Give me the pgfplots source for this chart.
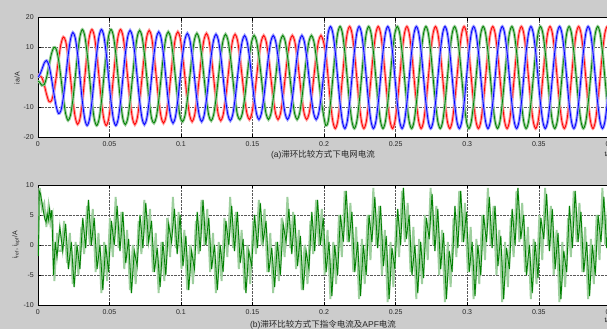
\documentclass[border=0pt]{standalone}
\usepackage{fontspec}
\setmainfont{Liberation Sans}
\newfontfamily\cjk{Noto Sans CJK SC}
\usepackage{pgfplots}
\usepackage{pgfplotstable}
\pgfplotsset{compat=1.18}
\definecolor{bg}{RGB}{204,204,204}
\definecolor{mred}{RGB}{255,0,0}
\definecolor{mgreen}{RGB}{0,128,0}
\definecolor{mblue}{RGB}{0,0,255}

\pgfplotstableread{
t r b g
0.00000 1.00 0.20 -1.20
0.00114 0.75 0.75 -1.50
0.00281 0.00 2.60 -2.60
0.00447 -2.40 4.80 -2.40
0.00614 -5.63 5.63 0.00
0.00781 -8.00 4.00 4.00
0.00947 -7.79 0.00 7.79
0.01114 -5.00 -5.00 10.00
0.01281 0.00 -9.53 9.53
0.01447 6.00 -12.00 6.00
0.01614 11.08 -11.08 0.00
0.01781 13.50 -6.75 -6.75
0.01947 12.12 0.00 -12.12
0.02114 7.15 7.15 -14.30
0.02281 0.00 12.64 -12.64
0.02447 -7.50 15.00 -7.50
0.02614 -13.25 13.25 0.00
0.02781 -15.60 7.80 7.80
0.02947 -13.68 0.00 13.68
0.03114 -8.00 -8.00 16.00
0.03281 0.00 -13.86 13.86
0.03447 8.00 -16.00 8.00
0.03614 13.86 -13.86 0.00
0.03781 16.00 -8.00 -8.00
0.03947 13.86 0.00 -13.86
0.04114 8 8 -16
0.04281 0 13.86 -13.86
0.04447 -8 16 -8
0.04614 -13.86 13.86 0
0.04781 -16 8 8
0.04947 -13.86 0 13.86
0.05114 -8 -8 16
0.05281 0 -13.86 13.86
0.05447 8 -16 8
0.05614 13.86 -13.86 0
0.05781 16 -8 -8
0.05947 13.86 0 -13.86
0.06114 7.85 7.85 -15.7
0.06281 0 13.6 -13.6
0.06447 -7.85 15.7 -7.85
0.06614 -13.6 13.6 0
0.06781 -15.7 7.85 7.85
0.06947 -13.6 0 13.6
0.07114 -7.85 -7.85 15.7
0.07281 0 -13.6 13.6
0.07447 7.85 -15.7 7.85
0.07614 13.6 -13.6 0
0.07781 15.7 -7.85 -7.85
0.07947 13.6 0 -13.6
0.08114 7.6 7.6 -15.2
0.08281 0 13.16 -13.16
0.08447 -7.6 15.2 -7.6
0.08614 -13.16 13.16 0
0.08781 -15.2 7.6 7.6
0.08947 -13.16 0 13.16
0.09114 -7.6 -7.6 15.2
0.09281 0 -13.16 13.16
0.09447 7.6 -15.2 7.6
0.09614 13.16 -13.16 0
0.09781 15.2 -7.6 -7.6
0.09947 13.16 0 -13.16
0.10114 7.35 7.35 -14.7
0.10281 0 12.73 -12.73
0.10447 -7.35 14.7 -7.35
0.10614 -12.73 12.73 0
0.10781 -14.7 7.35 7.35
0.10947 -12.73 0 12.73
0.11114 -7.35 -7.35 14.7
0.11281 0 -12.73 12.73
0.11447 7.35 -14.7 7.35
0.11614 12.73 -12.73 0
0.11781 14.7 -7.35 -7.35
0.11947 12.73 0 -12.73
0.12114 7.2 7.2 -14.4
0.12281 0 12.47 -12.47
0.12447 -7.2 14.4 -7.2
0.12614 -12.47 12.47 0
0.12781 -14.4 7.2 7.2
0.12947 -12.47 0 12.47
0.13114 -7.2 -7.2 14.4
0.13281 0 -12.47 12.47
0.13447 7.2 -14.4 7.2
0.13614 12.47 -12.47 0
0.13781 14.4 -7.2 -7.2
0.13947 12.47 0 -12.47
0.14114 7 7 -14
0.14281 0 12.12 -12.12
0.14447 -7 14 -7
0.14614 -12.12 12.12 0
0.14781 -14 7 7
0.14947 -12.12 0 12.12
0.15114 -7 -7 14
0.15281 0 -12.12 12.12
0.15447 7 -14 7
0.15614 12.12 -12.12 0
0.15781 14 -7 -7
0.15947 12.12 0 -12.12
0.16114 7 7 -14
0.16281 0 12.12 -12.12
0.16447 -7 14 -7
0.16614 -12.12 12.12 0
0.16781 -14 7 7
0.16947 -12.12 0 12.12
0.17114 -7 -7 14
0.17281 0 -12.12 12.12
0.17447 7 -14 7
0.17614 12.12 -12.12 0
0.17781 14 -7 -7
0.17947 12.12 0 -12.12
0.18114 7 7 -14
0.18281 0 12.12 -12.12
0.18447 -7 14 -7
0.18614 -12.12 12.12 0
0.18781 -14 7 7
0.18947 -12.12 0 12.12
0.19114 -7 -7 14
0.19281 0 -12.12 12.12
0.19447 7 -14 7
0.19614 12.12 -12.12 0
0.19781 14 -7 -7
0.19947 12.12 0 -12.12
0.20114 8 8 -16
0.20281 0 14.72 -14.72
0.20447 -8.5 17 -8.5
0.20614 -14.72 14.72 0
0.20781 -17 8.5 8.5
0.20947 -14.72 0 14.72
0.21114 -8.5 -8.5 17
0.21281 0 -14.72 14.72
0.21447 8.5 -17 8.5
0.21614 14.72 -14.72 0
0.21781 17 -8.5 -8.5
0.21947 14.72 0 -14.72
0.22114 8.5 8.5 -17
0.22281 0 14.72 -14.72
0.22447 -8.5 17 -8.5
0.22614 -14.72 14.72 0
0.22781 -17 8.5 8.5
0.22947 -14.72 0 14.72
0.23114 -8.5 -8.5 17
0.23281 0 -14.72 14.72
0.23447 8.5 -17 8.5
0.23614 14.72 -14.72 0
0.23781 17 -8.5 -8.5
0.23947 14.72 0 -14.72
0.24114 8.5 8.5 -17
0.24281 0 14.72 -14.72
0.24447 -8.5 17 -8.5
0.24614 -14.72 14.72 0
0.24781 -17 8.5 8.5
0.24947 -14.72 0 14.72
0.25114 -8.5 -8.5 17
0.25281 0 -14.72 14.72
0.25447 8.5 -17 8.5
0.25614 14.72 -14.72 0
0.25781 17 -8.5 -8.5
0.25947 14.72 0 -14.72
0.26114 8.5 8.5 -17
0.26281 0 14.72 -14.72
0.26447 -8.5 17 -8.5
0.26614 -14.72 14.72 0
0.26781 -17 8.5 8.5
0.26947 -14.72 0 14.72
0.27114 -8.5 -8.5 17
0.27281 0 -14.72 14.72
0.27447 8.5 -17 8.5
0.27614 14.72 -14.72 0
0.27781 17 -8.5 -8.5
0.27947 14.72 0 -14.72
0.28114 8.5 8.5 -17
0.28281 0 14.72 -14.72
0.28447 -8.5 17 -8.5
0.28614 -14.72 14.72 0
0.28781 -17 8.5 8.5
0.28947 -14.72 0 14.72
0.29114 -8.5 -8.5 17
0.29281 0 -14.72 14.72
0.29447 8.5 -17 8.5
0.29614 14.72 -14.72 0
0.29781 17 -8.5 -8.5
0.29947 14.72 0 -14.72
0.30114 8.5 8.5 -17
0.30281 0 14.72 -14.72
0.30447 -8.5 17 -8.5
0.30614 -14.72 14.72 0
0.30781 -17 8.5 8.5
0.30947 -14.72 0 14.72
0.31114 -8.5 -8.5 17
0.31281 0 -14.72 14.72
0.31447 8.5 -17 8.5
0.31614 14.72 -14.72 0
0.31781 17 -8.5 -8.5
0.31947 14.72 0 -14.72
0.32114 8.5 8.5 -17
0.32281 0 14.72 -14.72
0.32447 -8.5 17 -8.5
0.32614 -14.72 14.72 0
0.32781 -17 8.5 8.5
0.32947 -14.72 0 14.72
0.33114 -8.5 -8.5 17
0.33281 0 -14.72 14.72
0.33447 8.5 -17 8.5
0.33614 14.72 -14.72 0
0.33781 17 -8.5 -8.5
0.33947 14.72 0 -14.72
0.34114 8.5 8.5 -17
0.34281 0 14.72 -14.72
0.34447 -8.5 17 -8.5
0.34614 -14.72 14.72 0
0.34781 -17 8.5 8.5
0.34947 -14.72 0 14.72
0.35114 -8.5 -8.5 17
0.35281 0 -14.72 14.72
0.35447 8.5 -17 8.5
0.35614 14.72 -14.72 0
0.35781 17 -8.5 -8.5
0.35947 14.72 0 -14.72
0.36114 8.5 8.5 -17
0.36281 0 14.72 -14.72
0.36447 -8.5 17 -8.5
0.36614 -14.72 14.72 0
0.36781 -17 8.5 8.5
0.36947 -14.72 0 14.72
0.37114 -8.5 -8.5 17
0.37281 0 -14.72 14.72
0.37447 8.5 -17 8.5
0.37614 14.72 -14.72 0
0.37781 17 -8.5 -8.5
0.37947 14.72 0 -14.72
0.38114 8.5 8.5 -17
0.38281 0 14.72 -14.72
0.38447 -8.5 17 -8.5
0.38614 -14.72 14.72 0
0.38781 -17 8.5 8.5
0.38947 -14.72 0 14.72
0.39114 -8.5 -8.5 17
0.39281 0 -14.72 14.72
0.39447 8.5 -17 8.5
0.39614 14.72 -14.72 0
0.39781 17 -8.5 -8.5
0.39947 14.72 0 -14.72
0.40114 8.5 8.5 -17
}\topdata

\pgfplotstableread{
t v
0 0
0.0004 -1.8
0.0010 9.0
0.0018 8.6
0.0028 7.2
0.0040 5.5
0.0050 4.3
0.0058 3.8
0.0066 5.2
0.0074 4.2
0.0082 6.0
0.0090 4.5
0.0098 5.8
0.0110 -5.0
0.0122 0.5
0.0134 -2.0
0.0154 3.0
0.0174 -1.0
0.0194 3.5
0.0214 -4.0
0.0234 0.5
0.0254 -7.0
0.0274 0.0
0.0294 -4.0
0.0314 4.5
0.0334 -0.5
0.0354 7.5
0.0374 0
0.0394 4.5
0.0414 -4
0.0434 0
0.0454 -7.5
0.0474 0
0.0494 -4.5
0.0514 4
0.0534 0
0.0554 6.5
0.0574 -1
0.0594 5.5
0.0614 -3
0.0634 1
0.0654 -8
0.0674 -1
0.0694 -3.5
0.0714 5
0.0734 -0.5
0.0754 7
0.0774 0.5
0.0794 4
0.0814 -4.5
0.0834 -0.5
0.0854 -7
0.0874 0.5
0.0894 -5
0.0914 3.5
0.0934 0.5
0.0954 6
0.0974 -1.5
0.0994 5
0.1014 -3.5
0.1034 1.5
0.1054 -7.5
0.1074 -1
0.1094 -4
0.1114 5.5
0.1134 -1
0.1154 7.5
0.1174 0
0.1194 4.5
0.1214 -4
0.1234 0
0.1254 -7.5
0.1274 0
0.1294 -4.5
0.1314 4
0.1334 0
0.1354 6.5
0.1374 -1
0.1394 5.5
0.1414 -3
0.1434 1
0.1454 -8
0.1474 -1
0.1494 -3.5
0.1514 5
0.1534 -0.5
0.1554 7
0.1574 0.5
0.1594 4
0.1614 -4.5
0.1634 -0.5
0.1654 -7
0.1674 0.5
0.1694 -5
0.1714 3.5
0.1734 0.5
0.1754 6
0.1774 -1.5
0.1794 5
0.1814 -3.5
0.1834 1.5
0.1854 -7.5
0.1874 -1
0.1894 -4
0.1914 5.5
0.1934 -1
0.1954 7.5
0.1974 0
0.1994 4.5
0.2014 -4.5
0.2034 0.5
0.2054 -8.5
0.2074 0
0.2094 -5
0.2114 5
0.2134 0.5
0.2154 9
0.2174 0.5
0.2194 5.5
0.2214 -4.5
0.2234 0.5
0.2254 -8.5
0.2274 0
0.2294 -5
0.2314 5
0.2334 0.5
0.2354 8
0.2374 -0.5
0.2394 6.5
0.2414 -3.5
0.2434 1.5
0.2454 -9
0.2474 -0.5
0.2494 -4
0.2514 6
0.2534 0
0.2554 9.5
0.2574 1
0.2594 5
0.2614 -5
0.2634 0
0.2654 -8
0.2674 0.5
0.2694 -5.5
0.2714 4.5
0.2734 1
0.2754 8.5
0.2774 -1
0.2794 6
0.2814 -4
0.2834 2
0.2854 -9
0.2874 -1
0.2894 -4.5
0.2914 6.5
0.2934 -0.5
0.2954 9
0.2974 0.5
0.2994 5.5
0.3014 -4.5
0.3034 0.5
0.3054 -8.5
0.3074 0
0.3094 -5
0.3114 5
0.3134 0.5
0.3154 8
0.3174 -0.5
0.3194 6.5
0.3214 -3.5
0.3234 1.5
0.3254 -9
0.3274 -0.5
0.3294 -4
0.3314 6
0.3334 0
0.3354 9.5
0.3374 1
0.3394 5
0.3414 -5
0.3434 0
0.3454 -8
0.3474 0.5
0.3494 -5.5
0.3514 4.5
0.3534 1
0.3554 8.5
0.3574 -1
0.3594 6
0.3614 -4
0.3634 2
0.3654 -9
0.3674 -1
0.3694 -4.5
0.3714 6.5
0.3734 -0.5
0.3754 9
0.3774 0.5
0.3794 5.5
0.3814 -4.5
0.3834 0.5
0.3854 -8.5
0.3874 0
0.3894 -5
0.3914 5
0.3934 0.5
0.3954 8
0.3974 -0.5
0.3994 6.5
0.4014 -3.5
}\botdata

\pgfplotstableread{
t v
0 0
0.0007 4
0.0014 9.5
0.0030 6
0.0045 7
0.0060 3
0.0075 6.5
0.0088 3.5
0.0103 5
0.0116 -6
0.0135 2
0.0145 -1
0.0164 -1
0.0184 4
0.0204 -3
0.0224 2
0.0244 -6.5
0.0264 0.5
0.0284 -5
0.0304 3
0.0324 -1.5
0.0344 6.5
0.0364 0
0.0384 6
0.0404 -4.5
0.0424 2
0.0444 -8
0.0464 0.5
0.0484 -6
0.0504 4.5
0.0524 -2
0.0544 8
0.0564 -0.5
0.0584 5.5
0.0604 -4
0.0624 2.5
0.0644 -7.5
0.0664 0
0.0684 -6.5
0.0704 4
0.0724 -1.5
0.0744 7.5
0.0764 0
0.0784 6
0.0804 -4.5
0.0824 2
0.0844 -8
0.0864 0.5
0.0884 -6
0.0904 4.5
0.0924 -2
0.0944 8
0.0964 -0.5
0.0984 5.5
0.1004 -4
0.1024 2.5
0.1044 -7.5
0.1064 0
0.1084 -6.5
0.1104 4
0.1124 -1.5
0.1144 7.5
0.1164 0
0.1184 6
0.1204 -4.5
0.1224 2
0.1244 -8
0.1264 0.5
0.1284 -6
0.1304 4.5
0.1324 -2
0.1344 8
0.1364 -0.5
0.1384 5.5
0.1404 -4
0.1424 2.5
0.1444 -7.5
0.1464 0
0.1484 -6.5
0.1504 4
0.1524 -1.5
0.1544 7.5
0.1564 0
0.1584 6
0.1604 -4.5
0.1624 2
0.1644 -8
0.1664 0.5
0.1684 -6
0.1704 4.5
0.1724 -2
0.1744 8
0.1764 -0.5
0.1784 5.5
0.1804 -4
0.1824 2.5
0.1844 -7.5
0.1864 0
0.1884 -6.5
0.1904 4
0.1924 -1.5
0.1944 7.5
0.1964 0
0.1984 6
0.2004 -5
0.2024 2.5
0.2044 -9
0.2064 0.5
0.2084 -6.5
0.2104 5
0.2124 -2
0.2144 9
0.2164 0.5
0.2184 7
0.2204 -4.5
0.2224 3
0.2244 -9
0.2264 1
0.2284 -6.5
0.2304 5
0.2324 -2.5
0.2344 9.5
0.2364 0
0.2384 6.5
0.2404 -5
0.2424 2.5
0.2444 -9.5
0.2464 0.5
0.2484 -7
0.2504 4.5
0.2524 -2
0.2544 9
0.2564 0.5
0.2584 7
0.2604 -4.5
0.2624 3
0.2644 -9
0.2664 1
0.2684 -6.5
0.2704 5
0.2724 -2.5
0.2744 9.5
0.2764 0
0.2784 6.5
0.2804 -5
0.2824 2.5
0.2844 -9.5
0.2864 0.5
0.2884 -7
0.2904 4.5
0.2924 -2
0.2944 9
0.2964 0.5
0.2984 7
0.3004 -4.5
0.3024 3
0.3044 -9
0.3064 1
0.3084 -6.5
0.3104 5
0.3124 -2.5
0.3144 9.5
0.3164 0
0.3184 6.5
0.3204 -5
0.3224 2.5
0.3244 -9.5
0.3264 0.5
0.3284 -7
0.3304 4.5
0.3324 -2
0.3344 9
0.3364 0.5
0.3384 7
0.3404 -4.5
0.3424 3
0.3444 -9
0.3464 1
0.3484 -6.5
0.3504 5
0.3524 -2.5
0.3544 9.5
0.3564 0
0.3584 6.5
0.3604 -5
0.3624 2.5
0.3644 -9.5
0.3664 0.5
0.3684 -7
0.3704 4.5
0.3724 -2
0.3744 9
0.3764 0.5
0.3784 7
0.3804 -4.5
0.3824 3
0.3844 -9
0.3864 1
0.3884 -6.5
0.3904 5
0.3924 -2.5
0.3944 9.5
0.3964 0
0.3984 6.5
0.4004 -5
}\lightdata

\pgfplotsset{
  myaxis/.style={
    scale only axis, width=572.6pt, height=120pt,
    xmin=0, xmax=0.4,
    axis background/.style={fill=white},
    axis line style={black, line width=0.5pt},
    xtick={0,0.05,0.1,0.15,0.2,0.25,0.3,0.35,0.4},
    xticklabels={0,0.05,0.1,0.15,0.2,0.25,0.3,0.35,0.4},
    grid=major,
    grid style={densely dotted, black!65, line width=0.45pt},
    tick align=inside, major tick length=3pt,
    tick style={black, line width=0.4pt},
    ticklabel style={font=\fontsize{7}{8}\selectfont, text=black!85},
    xticklabel style={yshift=-1pt},
    yticklabel style={xshift=-0.5pt},
    clip=true,
  }
}

\begin{document}
\begin{tikzpicture}
\useasboundingbox (0,0) rectangle (607pt,329pt);
\clip (0,0) rectangle (607pt,329pt);
\fill[bg] (0,0) rectangle (607pt,329pt);

\begin{axis}[myaxis, at={(37.8pt,191.5pt)}, anchor=south west,
  ymin=-20, ymax=20, ytick={-20,-10,0,10,20},
  yticklabels={-20,-10,0,10,20}]
  \addplot[smooth, mred!40, line width=2.8pt] table[x=t,y=r] {\topdata};
  \addplot[smooth, mred, line width=0.8pt] table[x=t,y=r] {\topdata};
  \addplot[smooth, mgreen!40, line width=2.8pt] table[x=t,y=g] {\topdata};
  \addplot[smooth, mgreen, line width=0.8pt] table[x=t,y=g] {\topdata};
  \addplot[smooth, mblue!40, line width=2.8pt] table[x=t,y=b] {\topdata};
  \addplot[smooth, mblue, line width=0.8pt] table[x=t,y=b] {\topdata};
\end{axis}

\begin{axis}[myaxis, at={(37.8pt,24pt)}, anchor=south west,
  ymin=-10, ymax=10, ytick={-10,-5,0,5,10},
  yticklabels={-10,-5,0,5,10}]
  \addplot[mgreen!38, line width=1.9pt] table[x=t,y=v] {\lightdata};
  \addplot[mgreen!40, line width=1.6pt] table[x=t,y=v] {\botdata};
  \addplot[mgreen, line width=0.8pt] table[x=t,y=v] {\botdata};
\end{axis}

\node[rotate=90, font=\fontsize{7}{8}\selectfont, text=black!85] at (17pt,251pt) {ia/A};
\node[rotate=90, font=\fontsize{7}{8}\selectfont, text=black!85] at (16pt,84pt) {i\textsubscript{ref}, i\textsubscript{apf}/A};
\node[font=\fontsize{8.5}{9}\selectfont, text=black!85] at (323pt,174pt) {(a){\cjk 滞环比较方式下电网电流}};
\node[font=\fontsize{8.5}{9}\selectfont, text=black!85] at (323pt,4.5pt) {(b){\cjk 滞环比较方式下指令电流及}APF{\cjk 电流}};
\node[anchor=west, font=\fontsize{7}{8}\selectfont, text=black!85] at (601pt,175pt) {t/s};
\node[anchor=west, font=\fontsize{7}{8}\selectfont, text=black!85] at (601pt,9pt) {t/s};
\end{tikzpicture}
\end{document}
